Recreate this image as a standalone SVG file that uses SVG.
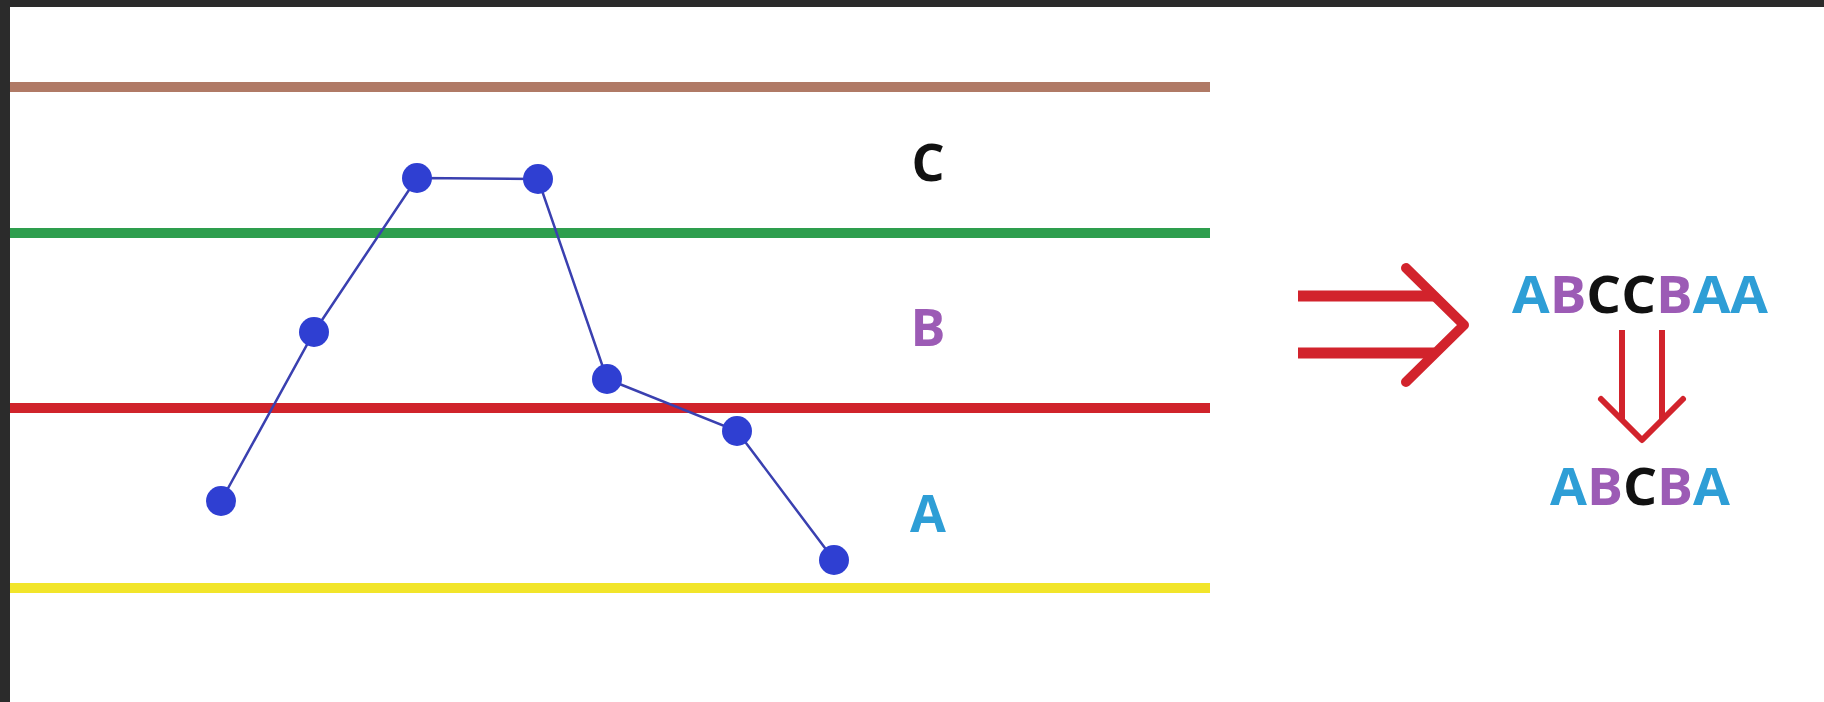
<svg xmlns="http://www.w3.org/2000/svg" width="1824" height="702" viewBox="0 0 1824 702">
<style>
.band{stroke-width:10;fill:none}
.conn{stroke:#3a40b0;stroke-width:2.5;fill:none}
.dot{fill:#2f3fd2}
.lbl{font-family:"Open Sans","Liberation Sans",sans-serif;font-weight:700;font-size:52px;text-anchor:middle}
.a{fill:#2e9ed6}.b{fill:#9c5bb5}.c{fill:#111111}
.red{stroke:#d2232c;fill:none;stroke-linejoin:round}
.cap{stroke-linecap:round}
</style>
<rect x="0" y="0" width="1824" height="702" fill="#ffffff"/>
<rect x="0" y="0" width="1824" height="7" fill="#2b2b2b"/>
<rect x="0" y="0" width="10" height="702" fill="#2b2b2b"/>
<g id="bands">
<line class="band" x1="10" y1="87" x2="1210" y2="87" stroke="#b07a66"/>
<line class="band" x1="10" y1="233" x2="1210" y2="233" stroke="#2e9e4e"/>
<line class="band" x1="10" y1="408" x2="1210" y2="408" stroke="#d0232b"/>
<line class="band" x1="10" y1="588" x2="1210" y2="588" stroke="#f2e52a"/>
</g>
<g id="connectors">
<polyline class="conn" points="221,501 314,332 417,178 538,179 607,379 737,431 834,560"/>
</g>
<g id="p1"><circle class="dot" cx="221" cy="501" r="15"/></g>
<g id="p2"><circle class="dot" cx="314" cy="332" r="15"/></g>
<g id="p3"><circle class="dot" cx="417" cy="178" r="15"/></g>
<g id="p4"><circle class="dot" cx="538" cy="179" r="15"/></g>
<g id="p5"><circle class="dot" cx="607" cy="379" r="15"/></g>
<g id="p6"><circle class="dot" cx="737" cy="431" r="15"/></g>
<g id="p7"><circle class="dot" cx="834" cy="560" r="15"/></g>
<g id="labels">
<text class="lbl c" x="928" y="181">C</text>
<text class="lbl b" x="928" y="346">B</text>
<text class="lbl a" x="928" y="532">A</text>
</g>
<g id="implies">
<line class="red" x1="1298" y1="296" x2="1434" y2="296" stroke-width="11"/>
<line class="red" x1="1298" y1="353" x2="1434" y2="353" stroke-width="11"/>
<polyline class="red cap" points="1406,268 1464,325 1406,382" stroke-width="10"/>
</g>
<g id="seq1">
<text class="lbl" x="1640" y="313" textLength="256" lengthAdjust="spacingAndGlyphs"><tspan class="a">A</tspan><tspan class="b">B</tspan><tspan class="c">CC</tspan><tspan class="b">B</tspan><tspan class="a">AA</tspan></text>
</g>
<g id="down">
<line class="red" x1="1622" y1="330" x2="1622" y2="420" stroke-width="6"/>
<line class="red" x1="1662" y1="330" x2="1662" y2="420" stroke-width="6"/>
<polyline class="red cap" points="1601,399 1642,440 1683,399" stroke-width="6"/>
</g>
<g id="seq2">
<text class="lbl" x="1640" y="505" textLength="180" lengthAdjust="spacingAndGlyphs"><tspan class="a">A</tspan><tspan class="b">B</tspan><tspan class="c">C</tspan><tspan class="b">B</tspan><tspan class="a">A</tspan></text>
</g>
</svg>
